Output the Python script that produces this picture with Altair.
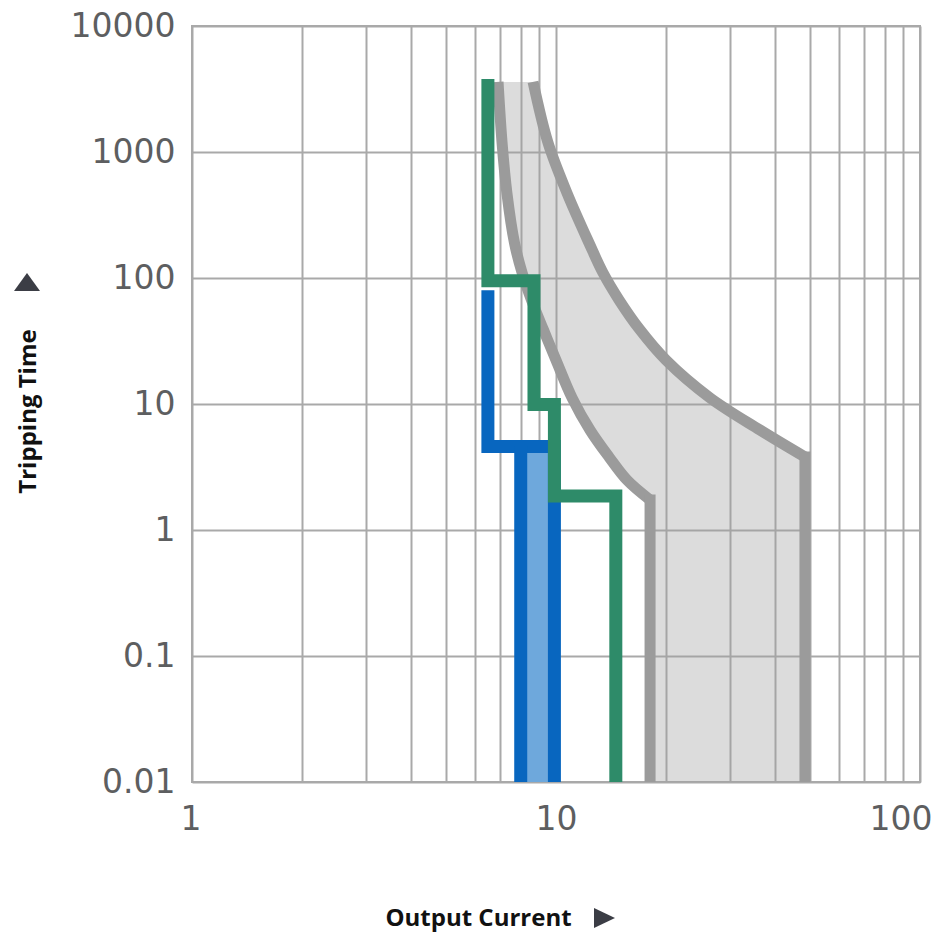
import altair as alt
import pandas as pd

# ---- axis values ----
x_labels = [1, 10, 100]
x_grid = [1, 2, 3, 4, 5, 6, 7, 8, 9, 10, 20, 30, 40, 50, 60, 70, 80, 90, 100]
y_ticks = [0.01, 0.1, 1, 10, 100, 1000, 10000]

# ---- grey tolerance band (shared time samples) ----
band_time = [3600, 1180, 473, 190, 110, 67, 38.7, 22.3, 11.2, 6.22, 3.8, 2.49, 1.73, 0.01]
band_low = [6.93, 7.11, 7.33, 7.69, 8.07, 8.56, 9.24, 10.0, 11.07, 12.4, 13.98, 15.67, 18.13, 18.13]
band_high = [8.65, 9.51, 10.72, 12.32, 13.46, 14.9, 17.02, 20.06, 26.49, 36.35, 48.3, 48.3, 48.3, 48.3]

# ---- green step curve ----
green_current = [6.5, 6.5, 8.7, 8.7, 9.9, 9.9, 14.6, 14.6]
green_time = [3800, 95, 95, 9.9, 9.9, 1.86, 1.86, 0.01]

# ---- blue step curve ----
blue_current = [6.5, 6.5, 9.9, 9.9]
blue_time = [80, 4.6, 4.6, 0.01]
blue_inner_current = [8.0, 8.0]
blue_inner_time = [4.6, 0.01]
blue_fill_left = [8.0]
blue_fill_right = [9.9]
blue_fill_top = [4.6]
blue_fill_bottom = [0.01]

GREEN = "#2e8b69"
BLUE = "#0866bf"
LIGHT_BLUE = "#6ea8dc"
GREY_LINE = "#9b9b9b"
GRID = "#a9a9a9"
TEXT_FONT = "Open Sans"

xscale = alt.Scale(type="log", domain=[1, 100])
yscale = alt.Scale(type="log", domain=[0.01, 10000])

label_expr_x = "indexof([" + ",".join(str(v) for v in x_labels) + "], datum.value) >= 0 ? '' + datum.value : ''"

x_axis = alt.Axis(
    values=x_grid, labelExpr=label_expr_x, grid=True, gridColor=GRID, gridWidth=2,
    ticks=False, domain=False, labelFlush=True, labelFlushOffset=12, labelOverlap=False,
    labelFont="DejaVu Sans", labelFontSize=33, labelColor="#5d5e60", labelPadding=21,
    title="Output Current", titleFont=TEXT_FONT, titleFontSize=24, titleFontWeight="bold",
    titleColor="#111111", titleX=286, titleY=136, titleAlign="center", titleBaseline="middle",
)
y_axis = alt.Axis(
    values=y_ticks, labelExpr="'' + datum.value", grid=True, gridColor=GRID, gridWidth=2,
    ticks=False, domain=False, labelFlush=False, labelOverlap=False,
    labelFont="DejaVu Sans", labelFontSize=33, labelColor="#5d5e60", labelPadding=17,
    title="Tripping Time", titleFont=TEXT_FONT, titleFontSize=24, titleFontWeight="bold",
    titleColor="#111111", titleX=-164, titleY=385, titleAngle=270, titleAlign="center",
    titleBaseline="middle",
)


def split_curve(currents, times, side):
    """Curved part up to the knee, and the straight vertical tail after it."""
    k = len(currents) - 1
    while k > 0 and currents[k - 1] == currents[-1]:
        k -= 1
    curve = pd.DataFrame({"i": range(k + 1), "I": currents[:k + 1], "t": times[:k + 1], "side": side})
    tail = pd.DataFrame({"i": range(len(currents) - k), "I": currents[k:], "t": times[k:], "side": side})
    return curve, tail


lo_curve, lo_tail = split_curve(band_low, band_time, "low")
hi_curve, hi_tail = split_curve(band_high, band_time, "high")
band_curves = pd.concat([lo_curve, hi_curve])
band_tails = pd.concat([lo_tail, hi_tail])

band_df = pd.DataFrame({"t": band_time, "lo": band_low, "hi": band_high})
green_df = pd.DataFrame({"i": range(len(green_time)), "I": green_current, "t": green_time})
blue_lines = pd.concat([
    pd.DataFrame({"i": range(len(blue_time)), "I": blue_current, "t": blue_time, "part": "outer"}),
    pd.DataFrame({"i": range(len(blue_inner_time)), "I": blue_inner_current, "t": blue_inner_time, "part": "inner"}),
])
blue_fill_df = pd.DataFrame({"l": blue_fill_left, "r": blue_fill_right, "top": blue_fill_top, "bot": blue_fill_bottom})

band_fill = alt.Chart(band_df).mark_area(orient="horizontal", color="#a0a0a0", opacity=0.37, clip=True).encode(
    y=alt.Y("t:Q", scale=yscale, axis=y_axis),
    x=alt.X("lo:Q", scale=xscale, axis=x_axis),
    x2="hi:Q",
)

blue_fill = alt.Chart(blue_fill_df).mark_rect(color=LIGHT_BLUE, clip=True).encode(
    x=alt.X("l:Q", scale=xscale), x2="r:Q",
    y=alt.Y("top:Q", scale=yscale), y2="bot:Q",
)

band_curve = alt.Chart(band_curves).mark_line(
    color=GREY_LINE, strokeWidth=11, interpolate="catmull-rom", strokeCap="butt", clip=True
).encode(
    x=alt.X("I:Q", scale=xscale), y=alt.Y("t:Q", scale=yscale),
    detail="side:N", order="i:Q",
)
band_tail = alt.Chart(band_tails).mark_line(
    color=GREY_LINE, strokeWidth=11, strokeCap="square", clip=True
).encode(
    x=alt.X("I:Q", scale=xscale), y=alt.Y("t:Q", scale=yscale),
    detail="side:N", order="i:Q",
)

blue_curve = alt.Chart(blue_lines).mark_line(color=BLUE, strokeWidth=13, strokeJoin="miter", clip=True).encode(
    x=alt.X("I:Q", scale=xscale), y=alt.Y("t:Q", scale=yscale),
    detail="part:N", order="i:Q",
)

green_curve = alt.Chart(green_df).mark_line(color=GREEN, strokeWidth=13, strokeJoin="miter", clip=True).encode(
    x=alt.X("I:Q", scale=xscale), y=alt.Y("t:Q", scale=yscale), order="i:Q",
)

dummy = pd.DataFrame({"a": [0]})
tri_up = alt.Chart(dummy).mark_point(
    shape="M-1.3,0.9L0,-0.9L1.3,0.9Z", filled=True, color="#3b3d45", opacity=1, size=400
).encode(x=alt.value(-165), y=alt.value(256))
tri_right = alt.Chart(dummy).mark_point(
    shape="M-1,-1L1.1,0L-1,1Z", filled=True, color="#3b3d45", opacity=1, size=400
).encode(x=alt.value(412), y=alt.value(892))

chart = alt.layer(
    band_fill, blue_fill, band_curve, band_tail, blue_curve, green_curve, tri_up, tri_right
).properties(
    width=728, height=756,
    padding={"left": 192, "top": 26, "right": 22, "bottom": 151},
    autosize=alt.AutoSizeParams(type="none"),
    background="white",
).configure_view(stroke=GRID, strokeWidth=2)

chart.save("out.html", embed_options={"renderer": "svg", "actions": False})
